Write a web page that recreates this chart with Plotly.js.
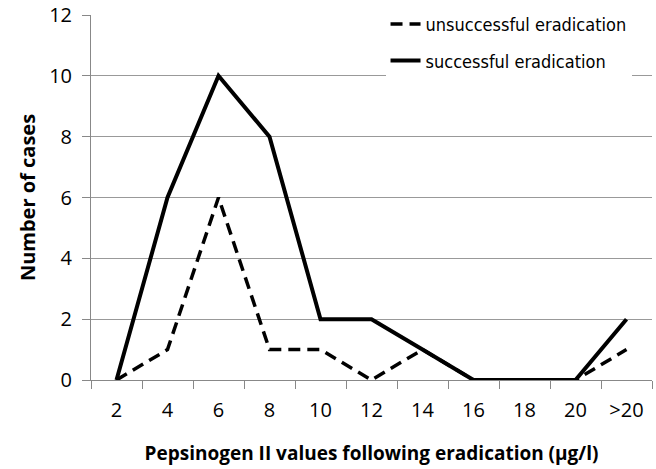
<!DOCTYPE html>
<html>
<head>
<meta charset="utf-8">
<script src="https://cdn.plot.ly/plotly-3.0.1.min.js"></script>
<style>html,body{margin:0;padding:0;background:#fff}#chart{width:656px;height:469px}</style>
</head>
<body>
<div id="chart"></div>
<script>
const categories = ["2","4","6","8","10","12","14","16","18","20",">20"];
const unsuccessful = [0,1,6,1,1,0,1,0,0,0,1];
const successful = [0,6,10,8,2,2,1,0,0,0,2];
const yTicks = [0,2,4,6,8,10,12];

const traces = [
  {x: categories, y: unsuccessful, type: "scatter", mode: "lines", name: "unsuccessful eradication",
   legendgroup: "a", line: {color: "#000", width: 3.5, dash: "12px,7px"}},
  {x: categories, y: successful, type: "scatter", mode: "lines", name: "successful eradication",
   legendgroup: "b", line: {color: "#000", width: 4}}
];

const layout = {
  width: 656, height: 469,
  margin: {l: 91, r: 4, t: 15, b: 89},
  paper_bgcolor: "#fff", plot_bgcolor: "#fff",
  font: {family: "Open Sans, sans-serif", color: "#000"},
  showlegend: true,
  legend: {x: 0.525, y: 1.025, xanchor: "left", yanchor: "top", bgcolor: "#fff",
           font: {family: "DejaVu Sans Condensed, DejaVu Sans", size: 18, color: "#000"},
           traceorder: "grouped", tracegroupgap: 10},
  xaxis: {type: "category", categoryorder: "array", categoryarray: categories,
          range: [-0.5, 10.5],
          tickson: "boundaries", ticks: "outside", ticklen: 8, tickcolor: "#888",
          ticklabelstandoff: 12,
          showline: true, linecolor: "#888", linewidth: 1, showgrid: false, zeroline: false,
          tickfont: {size: 20}, fixedrange: true,
          title: {text: "<b>Pepsinogen II values following eradication (µg/l)</b>", font: {size: 19}, standoff: 24}},
  yaxis: {range: [0, 12], tickvals: yTicks, ticks: "outside", ticklen: 8, tickcolor: "#888",
          ticklabelstandoff: 6,
          showline: true, linecolor: "#888", linewidth: 1, showgrid: true, gridcolor: "#999", gridwidth: 1,
          zeroline: false, tickfont: {size: 20}, fixedrange: true,
          title: {text: "<b>Number of cases</b>", font: {size: 20}, standoff: 8}}
};

Plotly.newPlot("chart", traces, layout, {staticPlot: true});
</script>
</body>
</html>
